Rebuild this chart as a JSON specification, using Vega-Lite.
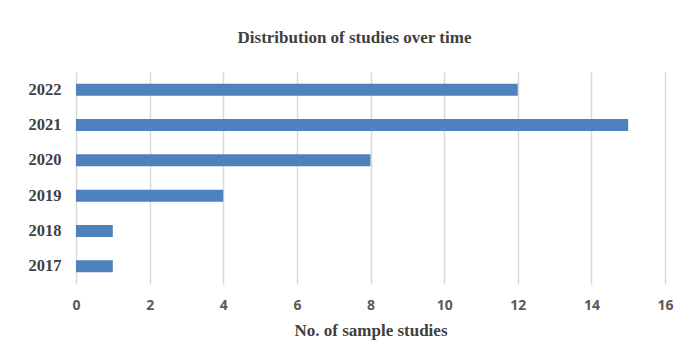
{
  "$schema": "https://vega.github.io/schema/vega-lite/v6.json",
  "width": 589,
  "height": 212,
  "autosize": {"type": "none"},
  "padding": {"left": 76, "top": 72, "right": 32, "bottom": 75},
  "background": "white",
  "title": {
    "text": "Distribution of studies over time",
    "font": "Liberation Serif",
    "fontSize": 17,
    "fontWeight": "bold",
    "color": "#404040",
    "anchor": "middle",
    "dx": -16,
    "offset": 25
  },
  "data": {
    "values": [
      {"year": "2022", "count": 12},
      {"year": "2021", "count": 15},
      {"year": "2020", "count": 8},
      {"year": "2019", "count": 4},
      {"year": "2018", "count": 1},
      {"year": "2017", "count": 1}
    ]
  },
  "mark": {"type": "bar", "color": "#4f81bd"},
  "encoding": {
    "y": {
      "field": "year",
      "type": "nominal",
      "sort": "descending",
      "scale": {"paddingInner": 0.66, "paddingOuter": 0.33},
      "axis": {
        "title": null,
        "domain": false,
        "ticks": false,
        "labelFont": "Liberation Serif",
        "labelFontSize": 16.5,
        "labelFontWeight": "bold",
        "labelColor": "#404040",
        "labelPadding": 15
      }
    },
    "x": {
      "field": "count",
      "type": "quantitative",
      "scale": {"domain": [0, 16]},
      "axis": {
        "values": [0, 2, 4, 6, 8, 10, 12, 14, 16],
        "title": "No. of sample studies",
        "titleFont": "Liberation Serif",
        "titleFontSize": 17,
        "titleFontWeight": "bold",
        "titleColor": "#404040",
        "titlePadding": 10,
        "domain": false,
        "ticks": false,
        "grid": true,
        "gridColor": "#d9d9d9",
        "gridWidth": 1.5,
        "labelFlush": false,
        "labelFont": "Open Sans",
        "labelFontSize": 14,
        "labelFontWeight": "bold",
        "labelColor": "#595959",
        "labelPadding": 14
      }
    }
  },
  "config": {"view": {"stroke": null}}
}
